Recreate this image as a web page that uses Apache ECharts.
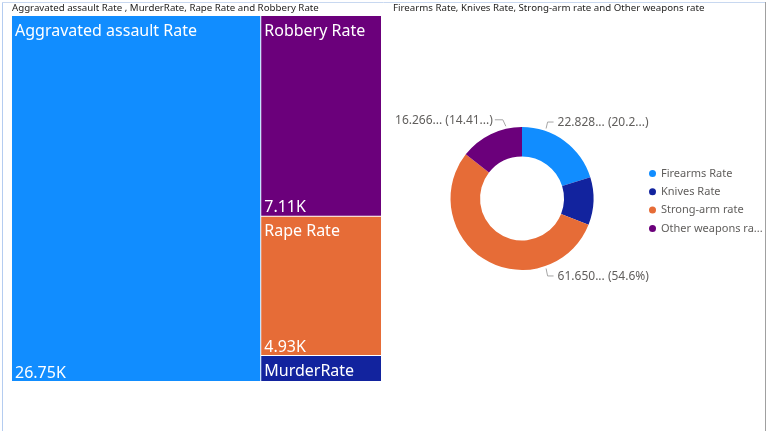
<!DOCTYPE html>
<html>
<head>
<meta charset="utf-8">
<script src="https://cdn.jsdelivr.net/npm/echarts@6/dist/echarts.min.js"></script>
<style>
html,body{margin:0;padding:0;background:#fff;}
#c{width:767px;height:431px;}
</style>
</head>
<body>
<div id="c"></div>
<script>
// Treemap data
var crimeCategories = ['Aggravated assault Rate', 'Robbery Rate', 'Rape Rate', 'MurderRate'];
var crimeValues = [26750, 7110, 4930, 920];
var crimeColors = ['#118DFF', '#6B007B', '#E66C37', '#12239E'];

// Donut data
var weaponCategories = ['Firearms Rate', 'Knives Rate', 'Strong-arm rate', 'Other weapons rate'];
var weaponValues = [22.8283, 12.16, 61.6504, 16.2662];
var weaponLabels = ['22.828... (20.2...)', '', '61.650... (54.6%)', '16.266... (14.41...)'];
var weaponColors = ['#118DFF', '#12239E', '#E66C37', '#6B007B'];

var titleLeft = 'Aggravated assault Rate , MurderRate, Rape Rate and Robbery Rate';
var titleRight = 'Firearms Rate, Knives Rate, Strong-arm rate and Other weapons rate';

var FONT = '"Segoe UI", "Noto Sans", sans-serif';

function fmtK(v) { return (v / 1000).toFixed(2) + 'K'; }

var nameData = crimeCategories.map(function (n, i) {
  return { name: n, value: crimeValues[i], itemStyle: { color: crimeColors[i] } };
});
var valueData = crimeCategories.map(function (n, i) {
  return {
    name: n, value: crimeValues[i],
    itemStyle: { color: 'rgba(0,0,0,0)' },
    label: { show: crimeValues[i] / crimeValues[0] > 0.1 }
  };
});

var tmCommon = {
  type: 'treemap',
  left: 12, top: 16, width: 369, height: 365,
  roam: false, nodeClick: false,
  breadcrumb: { show: false },
  squareRatio: 0.5 * (1 + Math.sqrt(5)),
  animation: false,
  emphasis: { disabled: true }
};

// Donut geometry
var CX = 522, CY = 198.5, R_IN = 42, R_OUT = 71.5;
// Leader-line anchor angles (degrees clockwise from top) in the style of the original
var anchorAngles = [19, null, 161, -12.6];

function pieLabelLayout(p) {
  var i = p.dataIndex;
  var a = anchorAngles[i];
  if (a === null || weaponLabels[i] === '') return {};
  var rad = a * Math.PI / 180;
  var r = R_OUT + 2.5;
  var ax = CX + r * Math.sin(rad), ay = CY - r * Math.cos(rad);
  var right = Math.sin(rad) >= 0;
  var up = Math.cos(rad) >= 0;
  var ex = ax + (right ? 1.5 : -3), ey = ay + (up ? -6.5 : 7.5);
  var hx = ex + (right ? 6 : -8);
  return {
    x: right ? hx + 4 : hx - 2,
    y: ey + 1,
    align: right ? 'left' : 'right',
    verticalAlign: 'middle',
    labelLinePoints: [[ax, ay], [ex, ey], [hx, ey]]
  };
}

var chart = echarts.init(document.getElementById('c'));
chart.setOption({
  animation: false,
  textStyle: { fontFamily: FONT },
  title: [
    { text: titleLeft, left: 12, top: 3, padding: 0, textStyle: { fontSize: 9.7, fontWeight: 'normal', color: '#252423', fontFamily: FONT } },
    { text: titleRight, left: 393, top: 3, padding: 0, textStyle: { fontSize: 9.7, fontWeight: 'normal', color: '#252423', fontFamily: FONT } }
  ],
  legend: {
    orient: 'vertical', left: 644, top: 163,
    itemWidth: 7, itemHeight: 7, itemGap: 7.3,
    icon: 'circle',
    data: weaponCategories,
    formatter: function (name) { return name.length > 16 ? name.slice(0, 16) + '...' : name; },
    textStyle: { fontSize: 11, color: '#605E5C', fontFamily: FONT }
  },
  graphic: [
    { type: 'line', shape: { x1: 2.5, y1: 2, x2: 2.5, y2: 431 }, style: { stroke: '#B4CCF0', lineWidth: 1 }, silent: true },
    { type: 'line', shape: { x1: 2, y1: 2.5, x2: 765, y2: 2.5 }, style: { stroke: '#C8D8F0', lineWidth: 1 }, silent: true },
    { type: 'line', shape: { x1: 765.5, y1: 2, x2: 765.5, y2: 431 }, style: { stroke: '#A0A0A0', lineWidth: 1 }, silent: true }
  ],
  series: [
    Object.assign({}, tmCommon, {
      name: 'names',
      data: nameData,
      levels: [{ itemStyle: { borderColor: '#fff', borderWidth: 0, gapWidth: 1 } }],
      itemStyle: { borderWidth: 0, gapWidth: 1 },
      label: {
        show: true, position: 'insideTopLeft', distance: 0, padding: [7, 0, 0, 3],
        formatter: '{b}', color: '#fff', fontSize: 16, fontFamily: FONT
      }
    }),
    Object.assign({}, tmCommon, {
      name: 'values',
      data: valueData,
      silent: true,
      levels: [{ itemStyle: { borderColor: 'rgba(0,0,0,0)', borderWidth: 0, gapWidth: 1 } }],
      itemStyle: { borderWidth: 0, gapWidth: 1 },
      label: {
        show: true, position: 'insideBottomLeft', distance: 0, padding: [0, 0, 0, 3],
        formatter: function (p) { return fmtK(p.value); }, color: '#fff', fontSize: 16, fontFamily: FONT
      }
    }),
    {
      type: 'pie',
      center: [CX, CY],
      radius: [R_IN, R_OUT],
      startAngle: 90,
      clockwise: true,
      emphasis: { disabled: true },
      data: weaponCategories.map(function (n, i) {
        return {
          name: n, value: weaponValues[i],
          itemStyle: { color: weaponColors[i] },
          label: { show: weaponLabels[i] !== '' },
          labelLine: { show: weaponLabels[i] !== '' }
        };
      }),
      label: {
        formatter: function (p) { return weaponLabels[p.dataIndex]; },
        fontSize: 12, color: '#605E5C', fontFamily: FONT
      },
      labelLine: { length: 6, length2: 6, lineStyle: { color: '#A6A6A6', width: 1 } },
      labelLayout: pieLabelLayout
    }
  ]
});
</script>
</body>
</html>
